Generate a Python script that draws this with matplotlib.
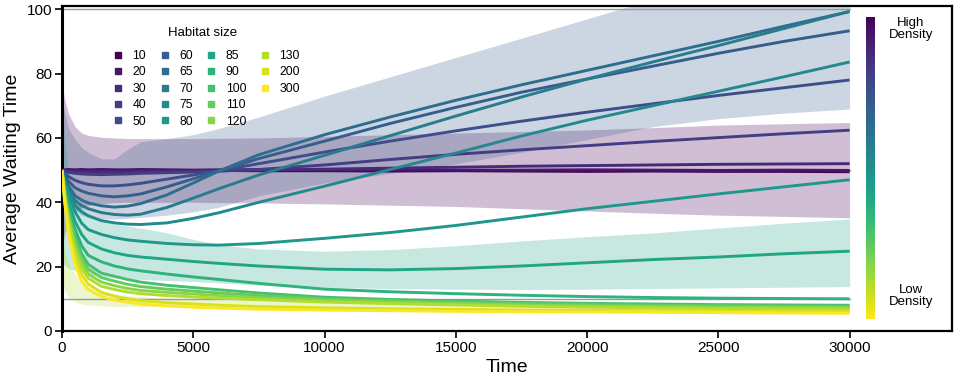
import numpy as np
import matplotlib
matplotlib.use("Agg")
import matplotlib.pyplot as plt
from matplotlib.lines import Line2D

plt.rcParams['font.family'] = ['Liberation Sans', 'DejaVu Sans']

# ---------------- data ----------------
time_pts = [0, 100, 250, 500, 750, 1000, 1500, 2000, 2500, 3000, 4000, 5000, 6000,
            7500, 10000, 12500, 15000, 17500, 20000, 22500, 25000, 27500, 30000]

habitat_sizes = [10, 20, 30, 40, 50, 60, 65, 70, 75, 80, 85, 90, 100, 110, 120, 130, 200, 300]

wt_10 = [50.0, 49.9, 49.8, 49.8, 49.9, 49.8, 49.9, 49.8, 49.8, 49.9, 49.8, 49.8, 49.9,
         49.8, 49.8, 49.7, 49.8, 49.7, 49.6, 49.7, 49.6, 49.6, 49.5]
wt_20 = [50.0, 50.1, 50.2, 50.1, 50.2, 50.1, 50.2, 50.1, 50.1, 50.2, 50.1, 50.0, 50.1,
         50.1, 50.0, 50.1, 50.0, 50.0, 50.1, 50.0, 49.9, 50.0, 49.9]
wt_30 = [50.0, 49.8, 49.6, 49.5, 49.4, 49.4, 49.4, 49.4, 49.5, 49.5, 49.6, 49.7, 49.8,
         50.0, 50.3, 50.6, 50.9, 51.2, 51.4, 51.6, 51.8, 51.9, 52.0]
wt_40 = [50.0, 49.6, 49.3, 49.0, 48.8, 48.7, 48.6, 48.7, 48.8, 49.0, 49.2, 49.4, 49.7,
         50.2, 51.6, 53.3, 54.9, 56.3, 57.6, 58.9, 60.1, 61.3, 62.4]
wt_50 = [50.0, 49.0, 48.0, 46.8, 46.1, 45.6, 45.1, 45.1, 45.4, 45.9, 47.2, 48.5, 49.9,
         52.0, 55.6, 59.0, 62.2, 65.2, 68.0, 70.6, 73.2, 75.6, 78.0]
wt_60 = [50.0, 48.3, 46.5, 44.5, 43.5, 42.8, 42.0, 41.7, 42.0, 42.6, 44.8, 47.3, 49.8,
         53.6, 59.0, 64.5, 69.5, 74.2, 78.3, 82.3, 86.3, 90.0, 93.3]
wt_65 = [50.0, 47.5, 45.0, 42.0, 40.7, 39.8, 38.9, 38.5, 38.8, 39.6, 42.3, 46.0, 49.8,
         54.8, 61.0, 66.5, 71.7, 76.5, 81.0, 85.5, 90.0, 94.7, 99.3]
wt_70 = [50.0, 47.0, 44.0, 40.5, 39.0, 38.0, 36.8, 36.2, 36.0, 36.3, 38.4, 41.3, 44.3,
         48.5, 54.6, 60.7, 66.8, 72.7, 78.3, 83.6, 88.7, 94.0, 99.3]
wt_75 = [50.0, 46.5, 43.0, 39.0, 37.0, 35.8, 34.3, 33.6, 33.2, 33.1, 33.6, 35.0, 36.8,
         40.0, 45.0, 50.2, 55.3, 60.6, 65.5, 70.0, 74.5, 79.0, 83.6]
wt_80 = [50.0, 46.0, 42.0, 37.0, 33.5, 31.5, 30.0, 29.0, 28.3, 27.9, 27.2, 26.8, 26.7,
         27.2, 28.8, 30.6, 32.8, 35.4, 38.0, 40.3, 42.6, 44.8, 47.0]
wt_85 = [50.0, 45.0, 40.0, 34.0, 30.0, 27.5, 25.5, 24.3, 23.5, 23.0, 22.3, 21.6, 21.0,
         20.2, 19.2, 19.0, 19.4, 20.2, 21.2, 22.2, 23.0, 24.0, 24.8]
wt_90 = [50.0, 44.0, 38.0, 31.5, 26.5, 23.5, 21.5, 20.2, 19.3, 18.7, 17.7, 16.8, 16.0,
         14.8, 13.0, 12.2, 11.6, 11.1, 10.7, 10.4, 10.2, 10.1, 10.0]
wt_100 = [50.0, 43.5, 37.0, 29.5, 24.0, 20.7, 18.0, 17.0, 16.0, 15.2, 14.2, 13.5, 12.8,
          11.8, 10.5, 9.8, 9.3, 8.9, 8.6, 8.4, 8.2, 8.1, 8.0]
wt_110 = [50.0, 43.0, 36.0, 28.0, 22.5, 19.2, 16.6, 15.5, 14.5, 13.8, 13.0, 12.4, 11.8,
          11.0, 10.0, 9.4, 8.9, 8.5, 8.2, 8.0, 7.8, 7.7, 7.6]
wt_120 = [50.0, 42.5, 35.0, 26.5, 21.0, 17.7, 15.2, 14.1, 13.2, 12.6, 12.0, 11.5, 11.0,
          10.3, 9.5, 9.0, 8.5, 8.1, 7.8, 7.6, 7.4, 7.3, 7.2]
wt_130 = [50.0, 42.0, 34.0, 25.0, 19.5, 16.4, 13.9, 12.9, 12.1, 11.6, 11.0, 10.6, 10.2,
          9.7, 9.0, 8.5, 8.1, 7.7, 7.4, 7.2, 7.0, 6.9, 6.8]
wt_200 = [50.0, 41.0, 32.0, 22.5, 17.5, 14.6, 12.0, 10.8, 10.0, 9.4, 8.8, 8.4, 8.0,
          7.6, 7.2, 6.9, 6.7, 6.5, 6.4, 6.3, 6.2, 6.1, 6.0]
wt_300 = [50.0, 40.0, 30.0, 20.5, 15.5, 12.9, 10.7, 9.6, 8.9, 8.4, 7.8, 7.4, 7.1,
          6.8, 6.5, 6.3, 6.1, 6.0, 5.9, 5.8, 5.7, 5.6, 5.5]

series = [wt_10, wt_20, wt_30, wt_40, wt_50, wt_60, wt_65, wt_70, wt_75, wt_80,
          wt_85, wt_90, wt_100, wt_110, wt_120, wt_130, wt_200, wt_300]

# spread bands (upper / lower) for four habitat sizes
band_10_hi = [77.0, 72.0, 67.5, 63.5, 61.5, 60.8, 60.2, 60.0, 59.8, 59.8, 59.8, 59.8, 59.9,
              60.0, 60.5, 61.0, 61.5, 62.0, 62.5, 63.2, 64.0, 64.4, 64.8]
band_10_lo = [25.0, 30.0, 34.0, 37.0, 38.3, 39.0, 39.6, 39.9, 40.0, 40.0, 40.0, 40.0, 39.9,
              39.8, 39.5, 39.1, 38.7, 38.0, 37.3, 36.6, 36.0, 35.6, 35.2]
band_60_hi = [72.0, 68.0, 63.0, 59.5, 57.0, 55.5, 53.5, 53.5, 56.5, 58.8, 59.8, 61.0, 63.0,
              66.5, 73.0, 79.0, 85.0, 91.0, 97.0, 103.0, 109.0, 114.0, 117.6]
band_60_lo = [48.0, 44.0, 40.5, 37.5, 36.0, 35.3, 34.8, 34.8, 35.0, 35.3, 36.0, 37.0, 38.5,
              42.0, 46.0, 49.0, 52.0, 55.5, 59.5, 63.5, 66.0, 67.7, 69.0]
band_85_hi = [72.0, 60.0, 50.0, 42.0, 38.5, 36.0, 34.5, 33.3, 32.6, 32.0, 30.5, 28.5, 26.8,
              25.5, 24.8, 25.3, 26.5, 28.0, 29.3, 30.5, 32.0, 33.5, 34.8]
band_85_lo = [22.0, 20.5, 19.5, 18.8, 18.0, 17.5, 17.0, 16.5, 16.2, 16.0, 15.7, 15.4, 15.0,
              14.2, 13.5, 13.2, 13.0, 12.9, 13.0, 13.2, 13.4, 13.6, 13.8]
band_130_hi = [30.0, 25.0, 21.0, 17.5, 15.5, 14.0, 12.5, 11.5, 11.0, 10.7, 10.2, 9.9, 9.7,
               9.4, 9.0, 8.7, 8.5, 8.3, 8.1, 8.0, 7.9, 7.8, 7.7]
band_130_lo = [16.0, 12.5, 10.5, 9.0, 8.4, 8.1, 7.8, 7.6, 7.6, 7.6, 7.6, 7.5, 7.3,
               7.0, 6.7, 6.4, 6.2, 6.1, 6.0, 5.9, 5.8, 5.7, 5.6]
band_sizes = [10, 60, 85, 130]
band_hi = [band_10_hi, band_60_hi, band_85_hi, band_130_hi]
band_lo = [band_10_lo, band_60_lo, band_85_lo, band_130_lo]

reference_levels = [10, 50, 100]

x_ticks = [0, 5000, 10000, 15000, 20000, 25000, 30000]
y_ticks = [0, 20, 40, 60, 80, 100]

# ---------------- figure ----------------
W, H = 957, 382
fig = plt.figure(figsize=(W / 100, H / 100), dpi=100)
ax = fig.add_axes([62 / W, 1 - 331 / H, 890 / W, 325 / H])

colors = plt.cm.viridis(np.linspace(0, 1, len(habitat_sizes)))
color_of = {s: c for s, c in zip(habitat_sizes, colors)}

for s, hi, lo in zip(band_sizes, band_hi, band_lo):
    ax.fill_between(time_pts, lo, hi, color=color_of[s], alpha=0.25, lw=0, zorder=1)

for lvl in reference_levels:
    ax.plot([time_pts[0], time_pts[-1]], [lvl, lvl], color='#9a9a9a', lw=1.0, zorder=2)

for s, vals in zip(habitat_sizes, series):
    ax.plot(time_pts, vals, color=color_of[s], lw=2.1, zorder=3,
            solid_capstyle='butt', solid_joinstyle='round')

ax.set_xlim(0, 33900)
ax.set_ylim(0, 101)
ax.set_xticks(x_ticks)
ax.set_yticks(y_ticks)
ax.tick_params(direction='out', length=5, width=1.2, labelsize=11, pad=2,
               colors='black')
ax.set_xlabel('Time', fontsize=14, labelpad=3)
ax.set_ylabel('Average Waiting Time', fontsize=14, labelpad=4)
for side, lw in [('left', 2.2), ('bottom', 1.6), ('top', 1.6), ('right', 1.6)]:
    ax.spines[side].set_linewidth(lw)
    ax.spines[side].set_color('black')

# legend: 4 columns filled 5/5/5/3 (two invisible fillers at the end)
handles = [Line2D([], [], ls='none', marker='s', ms=4.5, color=color_of[s])
           for s in habitat_sizes]
labels = [str(s) for s in habitat_sizes]
handles += [Line2D([], [], ls='none', marker='none')] * 2
labels += ['', '']
leg = ax.legend(handles, labels, ncol=4, loc='upper left',
                bbox_to_anchor=(113 / W, 1 - 50 / H),
                bbox_transform=fig.transFigure, frameon=False, fontsize=8.8,
                handlelength=0.8, handletextpad=0.8,
                columnspacing=1.1, labelspacing=0.36, borderpad=0,
                borderaxespad=0)
fig.text(203 / W, 1 - 33 / H, 'Habitat size', ha='center', va='center',
         fontsize=9.5)

# density colour bar
cax = fig.add_axes([866 / W, 1 - 319 / H, 9 / W, 302 / H])
cax.imshow(np.linspace(0, 1, 256)[:, None], aspect='auto', cmap='viridis',
           origin='upper')
cax.set_axis_off()
fig.text(911 / W, 1 - 29 / H, 'High\nDensity', ha='center', va='center',
         fontsize=9.5, linespacing=1.0)
fig.text(911 / W, 1 - 296 / H, 'Low\nDensity', ha='center', va='center',
         fontsize=9.5, linespacing=1.0)

fig.savefig('out.png', dpi=100)
